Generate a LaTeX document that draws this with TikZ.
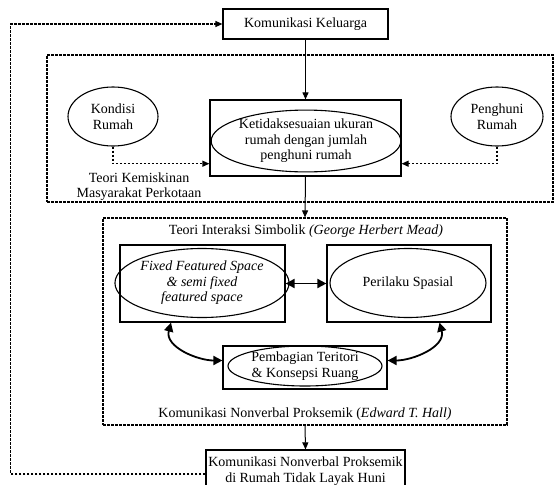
\documentclass[tikz,border=0pt]{standalone}
\usepackage{fontspec}
\setmainfont{Liberation Serif}
\usetikzlibrary{arrows.meta,shapes.geometric}
\begin{document}
\begin{tikzpicture}[x=1pt,y=-1pt,
  font=\fontsize{14}{15.5}\selectfont,
  box/.style={draw, line width=1.2pt, rectangle, inner sep=0pt, align=center},
  ell/.style={draw, line width=1.1pt, ellipse, inner sep=0pt, align=center},
  dsh/.style={line width=1.2pt, dash pattern=on 2.6pt off 1.4pt},
  sarr/.style={line width=1pt, -{Triangle[length=7pt,width=6pt]}},
  darr/.style={dsh, -{Triangle[length=7pt,width=6pt]}},
  tarr/.style={line width=1.8pt, {Triangle[length=9pt,width=9pt]}-{Triangle[length=9pt,width=9pt]}},
  lbl/.style={align=center, inner sep=0pt}]
\useasboundingbox (0,0) rectangle (558,485);
% frames
\node[dsh, draw, minimum width=506pt, minimum height=147pt, inner sep=0pt] (r1) at (300,128.5) {};
\node[dsh, draw, minimum width=404pt, minimum height=207pt, inner sep=0pt] (r2) at (305,321.5) {};
% top
\node[box, minimum width=165pt, minimum height=30pt] (kk) at (305.5,24) {Komunikasi Keluarga};
\node[box, minimum width=191pt, minimum height=76pt] (cb) at (305.5,138) {};
\node[ell, minimum width=182pt, minimum height=50pt] (ce) at (306,141) {Ketidaksesuaian ukuran\\rumah dengan jumlah\\penghuni rumah};
\node[ell, minimum width=90pt, minimum height=59pt] (kr) at (113,116.5) {Kondisi\\Rumah};
\node[ell, minimum width=92pt, minimum height=59pt] (pr) at (497,116.5) {Penghuni\\Rumah};
\node[lbl] (tk) at (139,186.5) {Teori Kemiskinan\\Masyarakat Perkotaan};
% middle
\node[lbl] (ti) at (306,231) {Teori Interaksi Simbolik \textit{(George Herbert Mead)}};
\node[box, minimum width=165pt, minimum height=77pt] (lb) at (202.5,283.5) {};
\node[ell, minimum width=155pt, minimum height=69pt] (le) at (202,283) {\itshape Fixed Featured Space\\\itshape \& semi fixed\\\itshape featured space};
\node[box, minimum width=164pt, minimum height=77pt] (rb) at (409,283.5) {};
\node[ell, minimum width=156pt, minimum height=69pt] (re) at (408,283) {Perilaku Spasial};
\node[box, minimum width=164pt, minimum height=43pt] (bb) at (305,367.5) {};
\node[ell, minimum width=154pt, minimum height=40pt] (be) at (305,366) {Pembagian Teritori\\\& Konsepsi Ruang};
\node[lbl] (kn) at (305,414) {Komunikasi Nonverbal Proksemik (\textit{Edward T. Hall)}};
% bottom
\node[box, minimum width=199pt, minimum height=46pt] (fb) at (305.5,473) {};
\node[lbl] (ft) at (305.5,471) {Komunikasi Nonverbal Proksemik\\di Rumah Tidak Layak Huni};
% connectors
\draw[sarr] (kk.south) -- (cb.north);
\draw[sarr] (cb.south) -- (r2.north);
\draw[sarr] (r2.south) -- (fb.north);
\draw[darr] (kr.south) |- ([yshift=-25.7pt]cb.west);
\draw[darr] (pr.south) |- ([yshift=-25.7pt]cb.east);
\draw[tarr] (lb.east) -- (rb.west);
\draw[tarr] ([xshift=-31.5pt]lb.south) to[out=-105,in=180] ([yshift=7pt]bb.west);
\draw[tarr] ([xshift=30.5pt]rb.south) to[out=-75,in=0] ([yshift=7pt]bb.east);
\coordinate (lc1) at (10.7,474);
\coordinate (lc2) at (10.7,24);
\draw[darr] ([yshift=-1pt]fb.west) -- (lc1) -- (lc2) -- (kk.west);
\end{tikzpicture}
\end{document}
